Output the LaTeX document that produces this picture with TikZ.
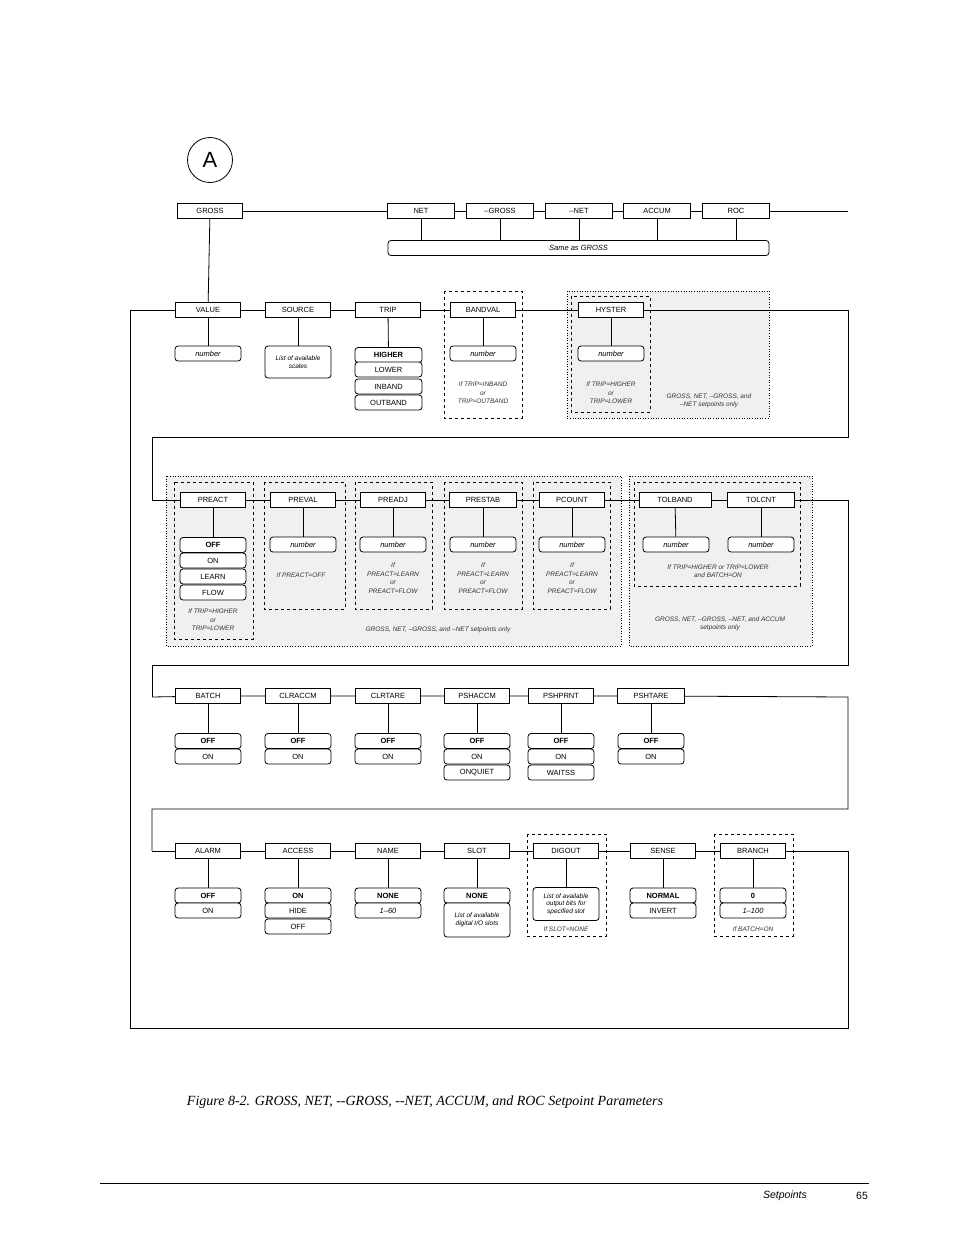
\documentclass[tikz,border=0pt]{standalone}
\usepackage{fontspec}
\setmainfont{Liberation Sans}
\newfontfamily\capfont{Liberation Serif}
\begin{document}
\begin{tikzpicture}[x=1pt,y=-1pt,line width=0.8pt,
 font=\fontsize{7.5}{8.5}\selectfont,
 box/.style={draw,fill=white,minimum width=65pt,minimum height=15pt,inner sep=1pt},
 opt/.style={draw,fill=white,rounded corners=3pt,minimum width=66pt,minimum height=15pt,inner sep=1pt},
 note/.style={font=\fontsize{6.5}{8.5}\selectfont\itshape,align=center,text=black!80},
 dbox/.style={draw,dashed,line width=0.6pt},
 gbox/.style={draw,dotted,fill=black!6,line width=0.6pt}]
\useasboundingbox (0,0) rectangle (954,1235);
% row 0
\node[draw,circle,minimum size=45pt,inner sep=0,font=\fontsize{22}{24}\selectfont] (A) at (210,160) {A};
\node[box] (gross) at (210,211) {GROSS};
\node[box,minimum width=67pt] (net) at (421,211) {NET};
\node[box,minimum width=67pt] (mgross) at (500,211) {--GROSS};
\node[box,minimum width=67pt] (mnet) at (579,211) {--NET};
\node[box,minimum width=67pt] (accum) at (657,211) {ACCUM};
\node[box,minimum width=67pt] (roc) at (736,211) {ROC};
\coordinate (e0) at (848,211);
\draw (gross) -- (net) -- (mgross) -- (mnet) -- (accum) -- (roc) -- (e0);
\node[opt,minimum width=381pt,font=\fontsize{7.5}{8.5}\selectfont\itshape] (same) at (578.5,248) {Same as GROSS};
\foreach \n/\x in {net/421,mgross/500,mnet/579,accum/657,roc/736}
  \draw (\n.south) -- (\x,240);
% row 1 backgrounds
\draw[dbox] (444,291) rectangle (522,418);
\draw[gbox] (567,291) rectangle (769,418);
\draw[dbox] (571,296) rectangle (650,412);
\node[box] (value) at (208,310) {VALUE};
\node[box] (source) at (298,310) {SOURCE};
\node[box] (trip) at (388,310) {TRIP};
\node[box] (bandval) at (483,310) {BANDVAL};
\node[box] (hyster) at (611,310) {HYSTER};
\draw (gross) -- (value);
\coordinate (s1) at (130,310); \coordinate (c1) at (848,310); \coordinate (c1b) at (848,437);
\coordinate (c1c) at (152,437);
\draw (s1) -- (value) -- (source) -- (trip) -- (bandval) -- (hyster) -- (c1) -- (c1b) -- (c1c) -- (152,500);
\node[opt,font=\fontsize{7.5}{8.5}\selectfont\itshape] (v1) at (208,353.5) {number};
\draw (value) -- (v1);
\node[opt,minimum height=32pt,font=\fontsize{6.5}{7.5}\selectfont\itshape,align=center] (src1) at (298,362) {List of available\\scales};
\draw (source) -- (src1);
\node[opt,minimum width=67pt] (t1) at (388.5,355) {\bfseries HIGHER};
\node[opt,minimum width=67pt] (t2) at (388.5,369.5) {LOWER};
\node[opt,minimum width=67pt] (t3) at (388.5,386.5) {INBAND};
\node[opt,minimum width=67pt] (t4) at (388.5,402.5) {OUTBAND};
\draw (trip) -- (t1);
\node[opt,font=\fontsize{7.5}{8.5}\selectfont\itshape] (b1) at (483,353.5) {number};
\draw (bandval) -- (b1);
\node[note] at (483,393) {If TRIP=INBAND\\or\\TRIP=OUTBAND};
\node[opt,font=\fontsize{7.5}{8.5}\selectfont\itshape] (h1) at (611,353.5) {number};
\draw (hyster) -- (h1);
\node[note] at (611,393) {If TRIP=HIGHER\\or\\TRIP=LOWER};
\node[note] at (709,401) {GROSS, NET, --GROSS, and\\--NET setpoints only};
% row 2
\draw[gbox] (166,476) rectangle (621,646);
\draw[gbox] (629,476) rectangle (812,646);
\draw[dbox] (174,482) rectangle (253,639);
\draw[dbox] (264,482) rectangle (345,609);
\draw[dbox] (355,482) rectangle (432,609);
\draw[dbox] (444,482) rectangle (522,609);
\draw[dbox] (533,482) rectangle (610,609);
\draw[dbox] (634,482) rectangle (800,586);
\node[box] (preact) at (213,500) {PREACT};
\node[box] (preval) at (303,500) {PREVAL};
\node[box] (preadj) at (393,500) {PREADJ};
\node[box,minimum width=67pt] (prestab) at (483,500) {PRESTAB};
\node[box] (pcount) at (572,500) {PCOUNT};
\node[box,minimum width=72pt] (tolband) at (675,500) {TOLBAND};
\node[box,minimum width=67pt] (tolcnt) at (761,500) {TOLCNT};
\coordinate (s2) at (152,500); \coordinate (c2) at (848,500); \coordinate (c2b) at (848,665); \coordinate (c2c) at (152,665);
\draw (s2) -- (preact) -- (preval) -- (preadj) -- (prestab) -- (pcount) -- (tolband) -- (tolcnt) -- (c2) -- (c2b) -- (c2c) -- (152,697);
\node[opt] (p1) at (213,545) {\bfseries OFF};
\node[opt] (p2) at (213,560.5) {ON};
\node[opt] (p3) at (213,576.5) {LEARN};
\node[opt] (p4) at (213,592.5) {FLOW};
\draw (preact) -- (p1);
\node[note] at (213,620) {If TRIP=HIGHER\\or\\TRIP=LOWER};
\foreach \n/\x in {preval/303,preadj/393,prestab/483,pcount/572,tolband/676,tolcnt/761}{
  \node[opt,font=\fontsize{7.5}{8.5}\selectfont\itshape] (\n v) at (\x,544.5) {number};
  \draw (\n) -- (\n v);}
\node[note] at (301,575) {If PREACT=OFF};
\foreach \x in {393,483,572}
  \node[note] at (\x,578) {If\\PREACT=LEARN\\or\\PREACT=FLOW};
\node[note] at (718,571) {If TRIP=HIGHER or TRIP=LOWER\\and BATCH=ON};
\node[note] at (438,630) {GROSS, NET, --GROSS, and --NET setpoints only};
\node[note] at (720,624) {GROSS, NET, --GROSS, --NET, and ACCUM\\setpoints only};
% row 3
\node[box] (batch) at (208,696) {BATCH};
\node[box] (clraccm) at (298,696) {CLRACCM};
\node[box] (clrtare) at (388,696) {CLRTARE};
\node[box] (pshaccm) at (477,696) {PSHACCM};
\node[box] (pshprnt) at (561,696) {PSHPRNT};
\node[box,minimum width=67pt] (pshtare) at (651,696) {PSHTARE};
\coordinate (s3) at (152,697); \coordinate (c3) at (848,697); \coordinate (c3b) at (848,809); \coordinate (c3c) at (152,809);
\draw (s3) -- (batch) -- (clraccm) -- (clrtare) -- (pshaccm) -- (pshprnt) -- (pshtare) -- (c3) -- (c3b) -- (c3c) -- (152,851);
\foreach \n/\x/\t in {batch/208/ON,clraccm/298/ON,clrtare/388/ON,pshaccm/477/ON,pshprnt/561/ON,pshtare/651/ON}{
  \node[opt] (\n a) at (\x,741) {\bfseries OFF};
  \node[opt] (\n b) at (\x,756.5) {\t};
  \draw (\n) -- (\n a);}
\node[opt] (pshaccmc) at (477,772.5) {ONQUIET};
\node[opt] (pshprntc) at (561,772.5) {WAITSS};
% row 4
\draw[dbox] (527,834) rectangle (606,936);
\draw[dbox] (714,834) rectangle (793,936);
\node[box] (alarm) at (208,851) {ALARM};
\node[box] (access) at (298,851) {ACCESS};
\node[box] (name) at (388,851) {NAME};
\node[box] (slot) at (477,851) {SLOT};
\node[box] (digout) at (566,851) {DIGOUT};
\node[box] (sense) at (663,851) {SENSE};
\node[box] (branch) at (753,851) {BRANCH};
\coordinate (s4) at (152,851); \coordinate (c4) at (848,851); \coordinate (c4b) at (848,1028);
\coordinate (c4c) at (130,1028);
\draw (s4) -- (alarm) -- (access) -- (name) -- (slot) -- (digout) -- (sense) -- (branch) -- (c4) -- (c4b) -- (c4c) -- (s1);
\node[opt] (al1) at (208,895.5) {\bfseries OFF};
\node[opt] (al2) at (208,910.5) {ON};
\draw (alarm) -- (al1);
\node[opt] (ac1) at (298,895.5) {\bfseries ON};
\node[opt] (ac2) at (298,910.5) {HIDE};
\node[opt] (ac3) at (298,926.5) {OFF};
\draw (access) -- (ac1);
\node[opt] (n1) at (388,895.5) {\bfseries NONE};
\node[opt,font=\fontsize{7.5}{8.5}\selectfont\itshape] (n2) at (388,910.5) {1--60};
\draw (name) -- (n1);
\node[opt] (sl1) at (477,895.5) {\bfseries NONE};
\node[opt,minimum height=34pt,font=\fontsize{6.5}{7.5}\selectfont\itshape,align=center] (sl2) at (477,920) {List of available\\digital I/O slots};
\draw (slot) -- (sl1);
\node[opt,minimum height=33pt,font=\fontsize{6.5}{7.5}\selectfont\itshape,align=center] (dg1) at (566,904) {List of available\\output bits for\\specified slot};
\draw (digout) -- (dg1);
\node[note] at (566,929) {If SLOT=NONE};
\node[opt] (se1) at (663,895.5) {\bfseries NORMAL};
\node[opt] (se2) at (663,910.5) {INVERT};
\draw (sense) -- (se1);
\node[opt] (br1) at (753,895.5) {\bfseries 0};
\node[opt,font=\fontsize{7.5}{8.5}\selectfont\itshape] (br2) at (753,910.5) {1--100};
\draw (branch) -- (br1);
\node[note] at (753,929) {If BATCH=ON};
% caption and footer
\node[font=\capfont\itshape\fontsize{14}{16}\selectfont] (cap) at (425,1102) {Figure 8-2. GROSS, NET, --GROSS, --NET, ACCUM, and ROC Setpoint Parameters};
\coordinate (f1) at (100,1183); \coordinate (f2) at (869,1183);
\draw[line width=0.6pt] (f1) -- (f2);
\node[font=\itshape\fontsize{10.5}{12}\selectfont] (sp) at (785,1196) {Setpoints};
\node[font=\fontsize{10.5}{12}\selectfont] (pg) at (862,1196) {65};
\end{tikzpicture}
\end{document}
